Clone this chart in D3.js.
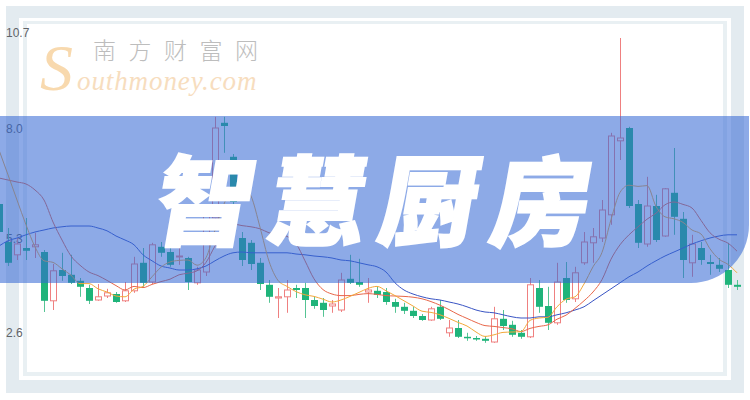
<!DOCTYPE html>
<html><head><meta charset="utf-8">
<script src="https://cdn.jsdelivr.net/npm/d3@7"></script>
<style>html,body{margin:0;padding:0;background:#fff;}svg{display:block;}</style>
</head><body>
<svg id="chart" width="750" height="400"></svg>
<script>
// ---- data ----
const days = Array.from({length: 83}, (_, i) => "D" + (i + 1));
const yTicks = [2.6, 5.3, 8.0, 10.7];
const open = [6.10,5.15,4.83,5.00,5.03,4.90,3.68,4.45,4.33,4.18,4.00,3.70,3.80,3.85,3.68,3.93,4.63,4.15,5.03,4.90,4.78,4.75,4.13,4.40,5.75,8.13,7.28,5.25,5.13,4.63,4.08,3.75,3.78,4.00,4.00,3.70,3.63,3.55,3.45,4.23,4.15,3.90,3.93,3.90,3.65,3.53,3.43,3.30,3.20,3.53,2.88,3.00,2.78,2.75,2.73,2.65,3.23,3.08,2.88,2.78,4.00,3.55,3.13,4.25,3.73,4.63,5.13,5.25,5.83,7.68,8.00,6.10,5.10,6.05,5.30,6.38,5.73,4.63,5.00,4.65,4.58,4.45,4.08];
const close = [5.40,4.63,5.10,4.93,5.08,3.68,4.43,4.30,4.13,4.03,3.68,3.78,3.88,3.65,3.93,4.60,4.13,5.08,4.88,4.58,4.80,4.15,4.45,5.83,8.00,8.05,6.15,4.70,4.60,4.10,3.78,3.78,3.95,3.95,3.70,3.55,3.45,3.60,4.20,4.13,4.08,3.95,3.83,3.65,3.53,3.43,3.30,3.20,3.48,3.23,3.00,2.78,2.75,2.73,2.68,3.23,3.05,2.83,2.78,4.08,3.53,3.13,4.15,3.70,4.38,5.15,5.28,5.95,7.80,7.75,6.05,5.13,6.05,5.20,6.48,5.78,4.70,5.10,4.70,4.60,4.48,4.08,4.03];
const high = [6.20,5.50,5.25,5.75,5.38,4.95,4.60,4.88,4.83,4.25,4.08,4.10,3.98,3.90,4.15,4.78,5.00,5.13,5.15,5.13,5.13,4.78,4.53,5.95,8.28,8.28,7.35,5.40,5.20,4.75,4.20,4.00,4.20,4.08,4.13,3.78,3.75,3.70,4.38,4.83,4.73,4.25,4.05,4.00,3.73,3.63,3.53,3.35,3.53,3.70,3.20,3.20,2.88,2.80,2.80,3.53,3.45,3.18,2.95,4.25,4.20,4.03,4.63,4.65,4.53,5.40,5.50,6.20,7.88,10.25,8.03,6.20,6.78,6.33,6.50,7.50,5.90,5.33,5.15,4.83,4.75,5.13,4.20];
const low = [5.33,4.55,4.70,4.70,4.75,3.40,3.45,4.18,4.10,3.78,3.60,3.68,3.75,3.63,3.65,3.88,4.03,4.10,4.78,4.53,4.58,3.95,4.08,4.30,5.65,7.38,6.08,4.55,4.45,3.95,3.63,3.25,3.38,3.75,3.25,3.48,3.28,3.38,3.40,4.10,4.03,3.63,3.75,3.58,3.38,3.35,3.25,3.18,3.18,3.20,2.78,2.75,2.68,2.68,2.63,2.63,2.95,2.78,2.73,2.75,3.38,2.95,3.08,3.63,3.65,4.58,4.63,5.15,5.58,7.20,6.00,5.00,5.03,5.15,5.28,5.33,4.25,4.28,4.58,4.33,4.40,4.00,3.95];
const ma5 = [7.45,6.83,6.20,5.58,5.03,4.68,4.64,4.48,4.32,4.11,4.11,3.98,3.90,3.80,3.78,3.97,4.04,4.28,4.52,4.65,4.69,4.70,4.57,4.76,5.45,6.10,6.50,6.55,6.30,5.52,4.67,4.19,4.04,3.91,3.83,3.79,3.72,3.65,3.70,3.79,3.89,3.99,4.04,3.93,3.81,3.68,3.55,3.42,3.39,3.33,3.24,3.14,3.05,2.90,2.79,2.83,2.89,2.90,2.91,3.19,3.25,3.27,3.53,3.72,3.78,4.10,4.53,4.89,5.71,6.39,6.57,6.54,6.56,6.04,5.78,5.73,5.64,5.45,5.35,4.98,4.72,4.59,4.38];
const ma10 = [6.75,6.70,6.65,6.60,6.45,6.20,5.65,5.20,4.80,4.57,4.40,4.31,4.19,4.06,3.95,4.04,4.01,4.09,4.16,4.22,4.33,4.37,4.43,4.64,5.05,5.40,5.60,5.56,5.53,5.48,5.38,5.34,5.29,5.11,4.68,4.23,3.96,3.85,3.81,3.81,3.84,3.86,3.84,3.81,3.80,3.79,3.77,3.73,3.66,3.57,3.46,3.34,3.24,3.14,3.06,3.04,3.01,2.98,2.91,2.99,3.04,3.08,3.22,3.32,3.49,3.68,3.90,4.21,4.72,5.08,5.33,5.53,5.72,5.87,6.08,6.15,6.09,6.00,5.69,5.38,5.22,5.12,4.92];
const ma20 = [5.05,5.18,5.25,5.33,5.40,5.45,5.50,5.53,5.55,5.55,5.55,5.50,5.43,5.30,5.20,5.08,4.83,4.68,4.55,4.50,4.45,4.45,4.48,4.55,4.68,4.80,4.88,4.90,4.88,4.88,4.88,4.88,4.88,4.85,4.83,4.80,4.78,4.75,4.70,4.68,4.63,4.58,4.53,4.40,4.13,3.95,3.85,3.78,3.73,3.70,3.65,3.60,3.53,3.45,3.40,3.38,3.33,3.28,3.25,3.25,3.28,3.28,3.33,3.38,3.45,3.53,3.68,3.83,3.98,4.13,4.28,4.40,4.55,4.68,4.80,4.90,5.00,5.10,5.18,5.25,5.30,5.33,5.33];
const title = "智慧厨房";

// ---- drawing ----
const svg = d3.select("#chart");
// frame
svg.append("rect").attr("x",6).attr("y",6).attr("width",738).attr("height",387).attr("fill","#e3ebf0");
svg.append("rect").attr("x",19).attr("y",18).attr("width",712).attr("height",362).attr("fill","#fff");
svg.append("rect").attr("x",23).attr("y",21).attr("width",704).attr("height",355).attr("fill","#e9f0f3");
svg.append("rect").attr("x",27).attr("y",24).attr("width",696).attr("height",348).attr("fill","#fff");

const x = d3.scalePoint().domain(days).range([-1, 737]);
const y = d3.scaleLinear().domain([2.6, 10.7]).range([344, 20]);

// y labels
const axis = d3.axisRight(y).tickValues(yTicks).tickSize(0).tickPadding(0).tickFormat(d3.format(".1f"));
const gA = svg.append("g").attr("transform","translate(6,0)").call(axis);
gA.select(".domain").remove();
const dyMap = {"2.6":"-0.6em","5.3":"0.5em","8":"0.36em","10.7":"1.4em"};
gA.selectAll("text")
  .attr("font-family","'Liberation Sans', Arial, sans-serif")
  .attr("font-size",12).attr("fill","#5f6368")
  .attr("dy", d => dyMap[String(d)]);

// candles
const UP = "#ef8080", DOWN = "#1fb47a", DOWNWICK = "#55c494";
const data = days.map((d,i) => ({d, o:open[i], c:close[i], h:high[i], l:low[i]}));
const gC = svg.append("g");
data.forEach(p => {
  const cx = Math.round(x(p.d));
  const up = p.c >= p.o;
  gC.append("line").attr("x1",cx+0.5).attr("x2",cx+0.5)
    .attr("y1",y(p.h)).attr("y2",y(p.l))
    .attr("stroke", up ? UP : DOWNWICK).attr("stroke-width",1);
  const top = y(Math.max(p.o,p.c)), bot = y(Math.min(p.o,p.c));
  if (up) {
    gC.append("rect").attr("x",cx-2.5).attr("y",top).attr("width",6).attr("height",Math.max(1,bot-top))
      .attr("fill","#fff").attr("stroke",UP).attr("stroke-width",1);
  } else {
    gC.append("rect").attr("x",cx-3).attr("y",top).attr("width",7).attr("height",Math.max(1.5,bot-top))
      .attr("fill",DOWN);
  }
});

// moving averages
const line = d3.line().x((v,i) => x(days[i])).y(v => y(v)).curve(d3.curveMonotoneX);
[[ma20,"#3a55c4"],[ma10,"#e8674a"],[ma5,"#f3a83a"]].forEach(([arr,col]) => {
  svg.append("path").attr("d", line(arr)).attr("fill","none").attr("stroke",col).attr("stroke-width",1);
});

// watermark logo
svg.append("text").attr("x",40).attr("y",90)
  .attr("font-family","'Liberation Serif', serif").attr("font-style","italic")
  .attr("font-size",66).attr("fill","#f8d9ae").text("S");
svg.append("text").attr("x",77).attr("y",90)
  .attr("font-family","'Liberation Serif', serif").attr("font-style","italic")
  .attr("font-size",27).attr("letter-spacing",0.9).attr("fill","#f7ddbe").text("outhmoney.com");
svg.append("text").attr("x",93).attr("y",59)
  .attr("font-family","'Liberation Sans', 'Noto Sans CJK SC', sans-serif").attr("font-weight",300)
  .attr("font-size",23).attr("letter-spacing",12.5).attr("fill","#bdbdbd").text("南方财富网");

// banner
svg.append("path")
  .attr("d","M0,116 H749 V225 A58,58 0 0 1 691,283 H0 Z")
  .attr("fill","rgb(52,104,212)").attr("fill-opacity",0.56);

// title
svg.append("text").attr("transform","translate(151,238) skewX(-10)")
  .attr("font-family","'Noto Sans CJK SC', sans-serif").attr("font-weight",900)
  .attr("font-size",98).attr("letter-spacing",14)
  .attr("fill","#fff").attr("stroke","#fff").attr("stroke-width",2)
  .text(title);
</script>
</body></html>
